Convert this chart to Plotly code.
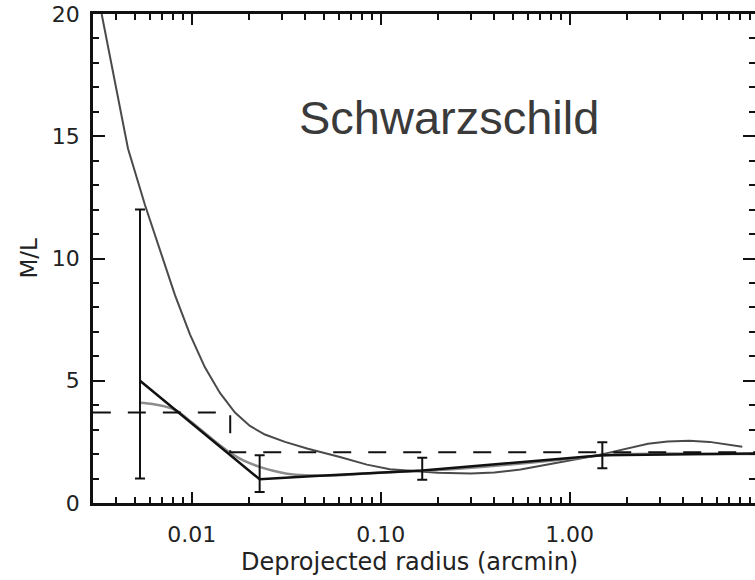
import plotly.graph_objects as go

# ---- data ----
# upper (dark grey) model curve
curveA_x = [0.00334, 0.004603, 0.005658, 0.006797, 0.008163, 0.009795, 0.011754, 0.014118,
            0.016950, 0.020338, 0.024421, 0.031174, 0.041229, 0.060897, 0.084588, 0.11198,
            0.150, 0.200, 0.300, 0.400, 0.550, 0.750, 1.00, 1.30, 1.60, 2.00, 2.60,
            3.30, 4.30, 5.50, 6.80, 8.20]
curveA_y = [20.0, 14.5, 12.2, 10.3, 8.5, 6.9, 5.55, 4.5,
            3.7, 3.15, 2.8, 2.5, 2.22, 1.88, 1.57, 1.38,
            1.3, 1.24, 1.21, 1.25, 1.37, 1.55, 1.73, 1.9, 2.05, 2.22, 2.42,
            2.52, 2.55, 2.5, 2.4, 2.3]

# lighter grey model curve
curveB_x = [0.00533, 0.0062, 0.0072, 0.0084, 0.010, 0.012, 0.014, 0.016, 0.019, 0.0229,
            0.027, 0.032, 0.040, 0.055, 0.080, 0.12, 0.18, 0.28, 0.45, 0.70,
            1.0, 1.5, 2.2, 3.5, 6.0, 9.6]
curveB_y = [4.1, 4.05, 3.95, 3.76, 3.3, 2.8, 2.38, 2.05, 1.72, 1.48,
            1.32, 1.2, 1.13, 1.12, 1.2, 1.27, 1.33, 1.42, 1.55, 1.69,
            1.81, 1.95, 2.0, 2.02, 2.0, 2.0]

# black solid line
black_x = [0.00533, 0.0229, 0.045, 0.166, 1.49, 9.6]
black_y = [5.0, 0.97, 1.1, 1.33, 1.95, 2.02]

# dashed step line
dash_x = [0.0030, 0.0160, 0.0160, 9.6]
dash_y = [3.7, 3.7, 2.08, 2.08]

# error bars (x, low, high)
err_x = [0.00533, 0.0229, 0.166, 1.49]
err_low = [1.0, 0.45, 0.95, 1.42]
err_high = [12.0, 1.95, 1.85, 2.48]

x_major = [0.01, 0.1, 1.0]
x_major_text = ["0.01", "0.10", "1.00"]
x_minor = [m * d for d in [0.001, 0.01, 0.1, 1.0] for m in range(2, 10)]
y_major = [0, 5, 10, 15, 20]
y_minor = list(range(0, 21))

err_mid = [(lo + hi) / 2 for lo, hi in zip(err_low, err_high)]
err_half = [(hi - lo) / 2 for lo, hi in zip(err_low, err_high)]

fig = go.Figure()

fig.add_trace(go.Scatter(x=curveA_x, y=curveA_y, mode="lines",
                         line=dict(color="#4a4a4a", width=2),
                         hoverinfo="skip"))
fig.add_trace(go.Scatter(x=curveB_x, y=curveB_y, mode="lines",
                         line=dict(color="#8c8c8c", width=2.5, shape="spline", smoothing=0.8),
                         hoverinfo="skip"))
fig.add_trace(go.Scatter(x=black_x, y=black_y, mode="lines",
                         line=dict(color="#111111", width=2.5), hoverinfo="skip"))
fig.add_trace(go.Scatter(x=dash_x, y=dash_y, mode="lines",
                         line=dict(color="#111111", width=2, dash="18px,17px"), hoverinfo="skip"))
fig.add_trace(go.Scatter(x=err_x, y=err_mid, mode="markers",
                         marker=dict(size=1, color="rgba(0,0,0,0)"),
                         error_y=dict(type="data", array=err_half, visible=True,
                                      color="#111111", thickness=2, width=5),
                         hoverinfo="skip"))
# carrier for the right-hand tick axis
fig.add_trace(go.Scatter(x=[err_x[0]], y=[err_mid[0]], yaxis="y2", mode="markers",
                         marker=dict(size=1, color="rgba(0,0,0,0)"), hoverinfo="skip"))

tick_font = dict(family="DejaVu Sans", size=22, color="#222222")

fig.update_layout(
    width=755, height=580,
    margin=dict(l=93, r=0, t=14, b=77),
    paper_bgcolor="white", plot_bgcolor="white",
    showlegend=False,
    xaxis=dict(type="log", range=[-2.522, 0.981],
               showline=True, linecolor="#111111", linewidth=2.5, mirror="ticks",
               ticks="inside", ticklen=11, tickwidth=2, tickcolor="#111111",
               tickmode="array", tickvals=x_major, ticktext=x_major_text,
               tickfont=tick_font, ticklabelstandoff=10,
               minor=dict(ticks="inside", ticklen=6, tickwidth=2, tickcolor="#111111",
                          tickmode="array", tickvals=x_minor, showgrid=False),
               showgrid=False, zeroline=False),
    yaxis=dict(range=[0, 20],
               showline=True, linecolor="#111111", linewidth=2.5, mirror=False,
               ticks="inside", ticklen=12, tickwidth=2, tickcolor="#111111",
               tickmode="array", tickvals=y_major,
               tickfont=tick_font, ticklabelstandoff=6,
               minor=dict(ticks="inside", ticklen=6, tickwidth=2, tickcolor="#111111",
                          tickmode="array", tickvals=y_minor, showgrid=False),
               showgrid=False, zeroline=False),
    yaxis2=dict(range=[0, 20], overlaying="y", side="right",
                showline=False, showticklabels=False,
                ticks="inside", ticklen=12, tickwidth=2, tickcolor="#111111",
                tickmode="array", tickvals=y_major,
                minor=dict(ticks="inside", ticklen=6, tickwidth=2, tickcolor="#111111",
                           tickmode="array", tickvals=y_minor, showgrid=False),
                showgrid=False, zeroline=False),
    annotations=[
        dict(text="Schwarzschild", xref="paper", yref="paper", x=0.5378, y=0.789,
             xanchor="center", yanchor="middle", showarrow=False,
             font=dict(family="Liberation Sans", size=47, color="#3a3a3a")),
        dict(text="Deprojected radius (arcmin)", xref="paper", yref="paper",
             x=(409.5 - 93) / 662, y=(503 - 562) / 489,
             xanchor="center", yanchor="middle", showarrow=False,
             font=dict(family="DejaVu Sans", size=24, color="#222222")),
        dict(text="M/L", xref="paper", yref="paper",
             x=(28 - 93) / 662, y=0.5, textangle=-90,
             xanchor="center", yanchor="middle", showarrow=False,
             font=dict(family="DejaVu Sans", size=23, color="#222222")),
    ],
)

fig.write_html("out.html")
